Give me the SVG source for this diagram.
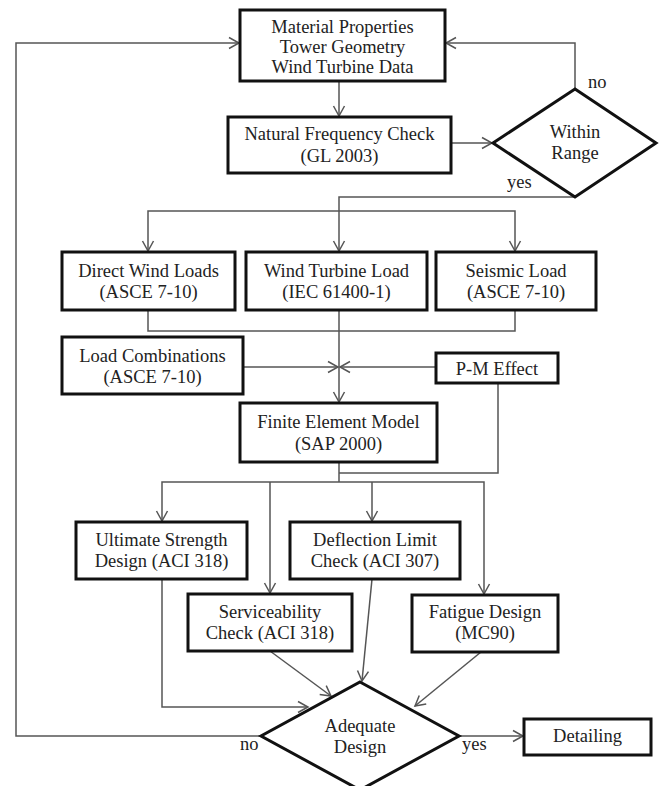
<svg xmlns="http://www.w3.org/2000/svg" width="661" height="786" viewBox="0 0 661 786">
<style>
.box{fill:#fff;stroke:#111;stroke-width:3}
.t{font-family:"Liberation Serif","Times New Roman",serif;font-size:18.5px;fill:#222;text-anchor:middle}
.l{font-family:"Liberation Serif","Times New Roman",serif;font-size:18.5px;fill:#222}
.c{fill:none;stroke:#555;stroke-width:1.5}
</style>
<defs>
<marker id="a" markerUnits="userSpaceOnUse" markerWidth="14" markerHeight="14" viewBox="-1 -7 12 14" refX="10" refY="0" orient="auto">
<path d="M0,-5.5 L10,0 L0,5.5" fill="none" stroke="#555" stroke-width="1.5"/>
</marker>
</defs>
<rect width="661" height="786" fill="#fff"/>
<g id="connectors" class="c">
<path d="M261,736 H16 V43 H239" marker-end="url(#a)"/>
<path d="M575,89 V43 H446" marker-end="url(#a)"/>
<path d="M339,81 V116" marker-end="url(#a)"/>
<path d="M451,143 H492" marker-end="url(#a)"/>
<path d="M575,197 H339 V251" marker-end="url(#a)"/>
<path d="M339,211 H148 V251" marker-end="url(#a)"/>
<path d="M339,211 H515 V251" marker-end="url(#a)"/>
<path d="M148,310 V331 H515 V310"/>
<path d="M339,310 V402" marker-end="url(#a)"/>
<path d="M243,367 H338" marker-end="url(#a)"/>
<path d="M436,367 H340" marker-end="url(#a)"/>
<path d="M498,383 V473 H339"/>
<path d="M339,462 V482"/>
<path d="M339,482 H162 V521" marker-end="url(#a)"/>
<path d="M339,482 H484 V594" marker-end="url(#a)"/>
<path d="M270,482 V593" marker-end="url(#a)"/>
<path d="M372,482 V521" marker-end="url(#a)"/>
<path d="M162,579 V707 H308" marker-end="url(#a)"/>
<path d="M270,651 L331,696" marker-end="url(#a)"/>
<path d="M372,579 L362,681" marker-end="url(#a)"/>
<path d="M481,652 L415,706" marker-end="url(#a)"/>
<path d="M459,736 H523" marker-end="url(#a)"/>
</g>
<g id="inputs">
<rect class="box" x="240" y="10" width="205" height="71"/>
<text class="t" x="342.5" y="33">Material Properties</text>
<text class="t" x="342.5" y="53">Tower Geometry</text>
<text class="t" x="342.5" y="73">Wind Turbine Data</text>
</g>
<g id="natural-frequency">
<rect class="box" x="228" y="117" width="223" height="56"/>
<text class="t" x="339.5" y="140">Natural Frequency Check</text>
<text class="t" x="339.5" y="162">(GL 2003)</text>
</g>
<g id="within-range">
<polygon class="box" points="575,89 656,143 575,197 493,143"/>
<text class="t" x="575" y="138">Within</text>
<text class="t" x="575" y="159">Range</text>
<text class="l" x="588" y="88">no</text>
<text class="l" x="507" y="188">yes</text>
</g>
<g id="direct-wind">
<rect class="box" x="62" y="252" width="173" height="58"/>
<text class="t" x="148.5" y="277">Direct Wind Loads</text>
<text class="t" x="148.5" y="298">(ASCE 7-10)</text>
</g>
<g id="turbine-load">
<rect class="box" x="246" y="252" width="181" height="58"/>
<text class="t" x="336.5" y="277">Wind Turbine Load</text>
<text class="t" x="336.5" y="298">(IEC 61400-1)</text>
</g>
<g id="seismic">
<rect class="box" x="436" y="252" width="160" height="58"/>
<text class="t" x="516" y="277">Seismic Load</text>
<text class="t" x="516" y="298">(ASCE 7-10)</text>
</g>
<g id="load-combinations">
<rect class="box" x="62" y="337" width="181" height="57"/>
<text class="t" x="152.5" y="362">Load Combinations</text>
<text class="t" x="152.5" y="383">(ASCE 7-10)</text>
</g>
<g id="pm-effect">
<rect class="box" x="436" y="353" width="122" height="30"/>
<text class="t" x="497" y="375">P-M Effect</text>
</g>
<g id="fem">
<rect class="box" x="240" y="403" width="197" height="59"/>
<text class="t" x="338.5" y="428">Finite Element Model</text>
<text class="t" x="338.5" y="450">(SAP 2000)</text>
</g>
<g id="ultimate">
<rect class="box" x="76" y="522" width="171" height="57"/>
<text class="t" x="161.5" y="546">Ultimate Strength</text>
<text class="t" x="161.5" y="567">Design (ACI 318)</text>
</g>
<g id="deflection">
<rect class="box" x="290" y="522" width="170" height="57"/>
<text class="t" x="375" y="546">Deflection Limit</text>
<text class="t" x="375" y="567">Check (ACI 307)</text>
</g>
<g id="serviceability">
<rect class="box" x="188" y="594" width="164" height="57"/>
<text class="t" x="270" y="618">Serviceability</text>
<text class="t" x="270" y="639">Check (ACI 318)</text>
</g>
<g id="fatigue">
<rect class="box" x="412" y="595" width="146" height="57"/>
<text class="t" x="485" y="618">Fatigue Design</text>
<text class="t" x="485" y="639">(MC90)</text>
</g>
<g id="adequate">
<polygon class="box" points="360,682 459,736 360,790 261,736"/>
<text class="t" x="360" y="732">Adequate</text>
<text class="t" x="360" y="753">Design</text>
<text class="l" x="240" y="750">no</text>
<text class="l" x="462" y="750">yes</text>
</g>
<g id="detailing">
<rect class="box" x="524" y="719" width="127" height="36"/>
<text class="t" x="587.5" y="742">Detailing</text>
</g>
</svg>
